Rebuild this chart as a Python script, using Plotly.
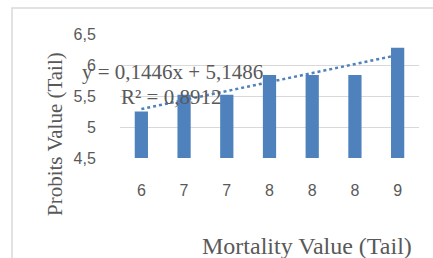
import plotly.graph_objects as go

# Data
categories = ["6", "7", "7", "8", "8", "8", "9"]
positions = [1, 2, 3, 4, 5, 6, 7]
probits = [5.25, 5.52, 5.52, 5.84, 5.84, 5.84, 6.28]
trend_x = [1, 7]
trend_y = [5.29, 6.16]
y_ticks = [4.5, 5, 5.5, 6, 6.5]
y_tick_labels = ["4,5", "5", "5,5", "6", "6,5"]
eq_text = "y = 0,1446x + 5,1486"
r2_text = "R² = 0,8912"

W, H = 433, 258
L, R, T, B = 120, 14, 34, 100
pw, ph = W - L - R, H - T - B

def px(x):
    return (x - L) / pw

def py(y):
    return (H - B - y) / ph

blue = "#4f81bd"
grey_text = "#595959"
serif = "Liberation Serif"
sans = "Liberation Sans"

fig = go.Figure()
fig.add_trace(go.Bar(x=positions, y=probits, marker=dict(color=blue, line=dict(width=0)),
                     width=0.31, showlegend=False))
fig.add_trace(go.Scatter(x=trend_x, y=trend_y, mode="lines",
                         line=dict(color=blue, width=2.5, dash="dot"), showlegend=False))

fig.update_layout(
    width=W, height=H,
    margin=dict(l=L, r=R, t=T, b=B, autoexpand=False),
    paper_bgcolor="white", plot_bgcolor="white",
    xaxis=dict(range=[0.5, 7.5], tickvals=positions, ticktext=categories,
               showgrid=False, zeroline=False, showline=False,
               tickfont=dict(family=sans, size=16, color=grey_text),
               ticks="outside", ticklen=18, tickcolor="rgba(0,0,0,0)"),
    yaxis=dict(range=[4.5, 6.5], tickvals=y_ticks, ticktext=y_tick_labels,
               showgrid=True, gridcolor="#d9d9d9", gridwidth=1,
               zeroline=False, showline=False,
               tickfont=dict(family=sans, size=16, color=grey_text),
               ticks="outside", ticklen=20, tickcolor="rgba(0,0,0,0)"),
    annotations=[
        dict(text="Probits Value (Tail)", textangle=-90, x=px(55), y=py(134),
             xref="paper", yref="paper", showarrow=False,
             font=dict(family=serif, size=21, color=grey_text),
             xanchor="center", yanchor="middle"),
        dict(text="Mortality Value (Tail)", x=px(307), y=py(246),
             xref="paper", yref="paper", showarrow=False,
             font=dict(family=serif, size=24, color=grey_text),
             xanchor="center", yanchor="middle"),
        dict(text=eq_text, x=px(172), y=py(72),
             xref="paper", yref="paper", showarrow=False,
             font=dict(family=serif, size=21, color=grey_text),
             xanchor="center", yanchor="middle"),
        dict(text=r2_text, x=px(171), y=py(97),
             xref="paper", yref="paper", showarrow=False,
             font=dict(family=serif, size=21, color=grey_text),
             xanchor="center", yanchor="middle"),
    ],
    shapes=[
        dict(type="rect", xref="paper", yref="paper",
             x0=px(12), x1=px(440), y0=py(270), y1=py(8),
             line=dict(color="#d9d9d9", width=1.5), fillcolor="rgba(0,0,0,0)", layer="below"),
    ],
)

fig.write_html("out.html", config={"displayModeBar": False},
               post_script="document.body.style.margin='0';")
